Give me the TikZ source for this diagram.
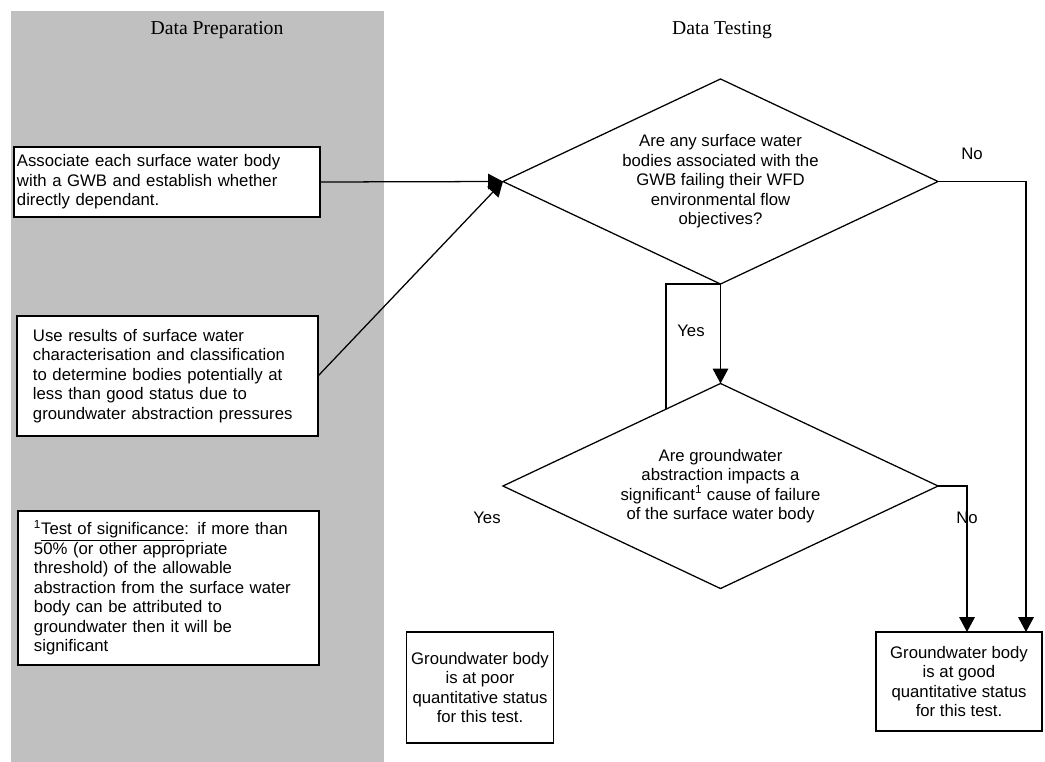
\documentclass[tikz,border=0pt]{standalone}
\usepackage{fontspec}
\setmainfont{Liberation Serif}
\setsansfont{Liberation Sans}
\usetikzlibrary{arrows.meta,positioning,calc,shapes.geometric}
\definecolor{panelgrey}{HTML}{C0C0C0}

\begin{document}
\begin{tikzpicture}[x=0.025cm,y=-0.025cm,line width=0.9pt,
  font=\sffamily\fontsize{11.9}{13.9}\selectfont,
  rec/.style={draw,fill=white,inner ysep=0pt,outer sep=0pt},
  dec/.style={draw,diamond,shape aspect=2.12,minimum width=10.875cm,minimum height=5.125cm,inner sep=0pt,outer sep=0pt,align=center},
  arr/.style={-{Triangle[length=10.5pt,width=11pt]}},
  ttl/.style={font=\rmfamily\fontsize{14}{16}\selectfont}]
\useasboundingbox (0,0) rectangle (1045,762);
\fill[panelgrey] (11,11) rectangle (384,762);
\node[ttl] (tprep) at (217,30) {Data Preparation};
\node[ttl] (ttest) at (722,30) {Data Testing};

% preparation column
\node[rec,text width=7.5cm,inner xsep=0.075cm,minimum height=1.75cm,align=left] (assoc) at (167,182) {Associate each surface water body\\with a GWB and establish whether\\directly dependant.};
\node[rec,text width=6.725cm,inner xsep=0.4cm,minimum height=3cm,align=left] (use) at (167.5,376) {Use results of surface water\\characterisation and classification\\to determine bodies potentially at\\less than good status due to\\groundwater abstraction pressures};
\node[rec,text width=6.725cm,inner xsep=0.4cm,minimum height=3.85cm,align=left] (sig) at (168.5,588) {\textsuperscript{1}\underline{Test of significance}: if more than\\50\% (or other appropriate\\threshold) of the allowable\\abstraction from the surface water\\body can be attributed to\\groundwater then it will be\\significant};

% testing column
\node[dec] (q1) at (720.5,181.5) {Are any surface water\\bodies associated with the\\GWB failing their WFD\\environmental flow\\objectives?};
\node[dec] (q2) at (720.5,486) {Are groundwater\\abstraction impacts a\\significant\textsuperscript{1} cause of failure\\of the surface water body};
\node[rec,minimum width=3.5cm,minimum height=2.775cm,align=center] (poor) at (480,687.5) {Groundwater body\\is at poor\\quantitative status\\for this test.};
\node[rec,minimum width=4.15cm,minimum height=2.475cm,align=center] (good) at (959,681.5) {Groundwater body\\is at good\\quantitative status\\for this test.};

\draw[arr] (assoc.east) -- (q1.west);
\draw[arr] (use.east) -- (q1.west);
\draw[arr] (q1.south) -- (q2.north);
\coordinate (q2edge) at ($(q2.north)!0.25!(q2.west)$);
\draw (q1.south) -| (q2edge);
\draw[arr] (q1.east) -| ($(good.north)+(67,0)$);
\draw[arr] (q2.east) -| ($(good.north)+(8,0)$);

\node (no1) at (972,154) {No};
\node (yes1) at (691,331) {Yes};
\node (yes2) at (487,518) {Yes};
\node (no2) at (967,518) {No};
\end{tikzpicture}
\end{document}
